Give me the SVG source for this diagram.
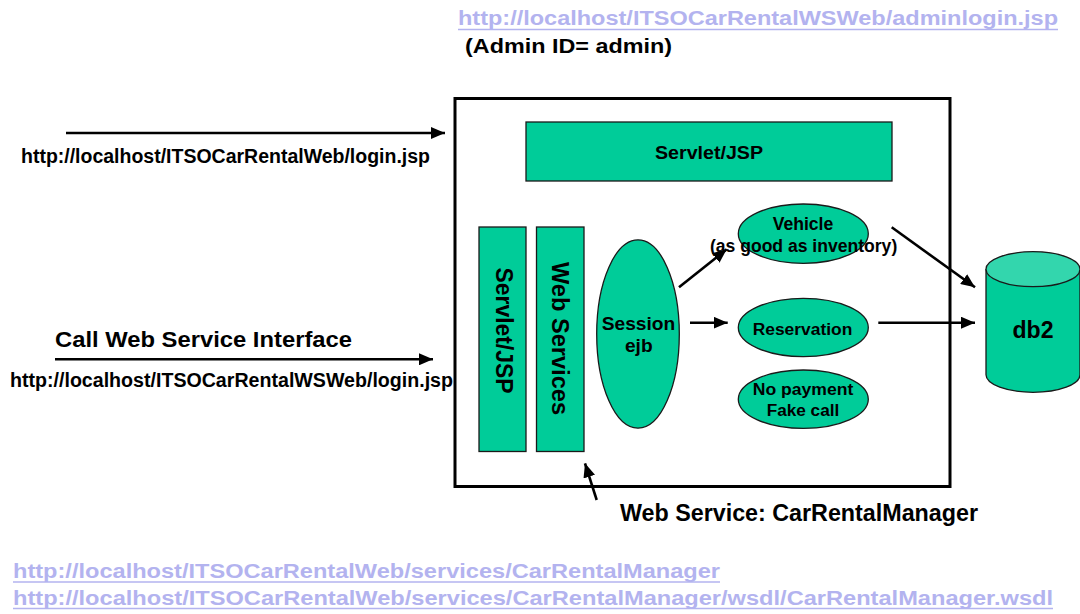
<svg xmlns="http://www.w3.org/2000/svg" width="1080" height="614" viewBox="0 0 1080 614">
<defs>
<style>
text{font-family:"Liberation Sans",Arial,Helvetica,sans-serif;font-weight:bold;fill:#000}
.url{fill:#b3b3ef}
.ul{stroke:#b3b3ef;stroke-width:1.6}
.g{fill:#00cc99;stroke:#1a1a1a;stroke-width:1.3}
.c{stroke:#000;stroke-width:2.6;fill:none;marker-end:url(#ah)}
.mid{text-anchor:middle}
</style>
<marker id="ah" viewBox="0 0 14 12" refX="14" refY="6" markerWidth="14" markerHeight="12" markerUnits="userSpaceOnUse" orient="auto">
<path d="M0,0 L14,6 L0,12 z" fill="#000"/>
</marker>
</defs>
<rect width="1080" height="614" fill="#fff"/>

<g id="labels">
<text class="url" x="458" y="25" font-size="19.5" textLength="600" lengthAdjust="spacingAndGlyphs">http://localhost/ITSOCarRentalWSWeb/adminlogin.jsp</text>
<line class="ul" x1="458" y1="29.5" x2="1058" y2="29.5"/>
<text x="465" y="53" font-size="21" textLength="207" lengthAdjust="spacingAndGlyphs">(Admin ID= admin)</text>
<text x="21" y="163" font-size="19.5" textLength="409" lengthAdjust="spacingAndGlyphs">http://localhost/ITSOCarRentalWeb/login.jsp</text>
<text x="55" y="347" font-size="22.5" textLength="297" lengthAdjust="spacingAndGlyphs">Call Web Service Interface</text>
<text x="10" y="387" font-size="19.5" textLength="443" lengthAdjust="spacingAndGlyphs">http://localhost/ITSOCarRentalWSWeb/login.jsp</text>
<text x="620" y="521" font-size="23" textLength="358" lengthAdjust="spacingAndGlyphs">Web Service: CarRentalManager</text>
<text class="url" x="13" y="578" font-size="19.5" textLength="707" lengthAdjust="spacingAndGlyphs">http://localhost/ITSOCarRentalWeb/services/CarRentalManager</text>
<line class="ul" x1="13" y1="582" x2="720" y2="582"/>
<text class="url" x="13" y="604.5" font-size="19.5" textLength="1040" lengthAdjust="spacingAndGlyphs">http://localhost/ITSOCarRentalWeb/services/CarRentalManager/wsdl/CarRentalManager.wsdl</text>
<line class="ul" x1="13" y1="608.5" x2="1053" y2="608.5"/>
</g>

<g id="container">
<rect x="455" y="98.5" width="495" height="388" fill="none" stroke="#000" stroke-width="3"/>
</g>

<g id="servlet-jsp-top">
<rect class="g" x="526" y="122" width="366" height="59"/>
<text class="mid" x="709" y="159" font-size="19" textLength="108" lengthAdjust="spacingAndGlyphs">Servlet/JSP</text>
</g>

<g id="servlet-jsp-vertical">
<rect class="g" x="479" y="227" width="47" height="224.5"/>
<text class="mid" transform="translate(496,330.5) rotate(90)" font-size="23" textLength="126" lengthAdjust="spacingAndGlyphs">Servlet/JSP</text>
</g>

<g id="web-services">
<rect class="g" x="536.5" y="227" width="47.5" height="224.5"/>
<text class="mid" transform="translate(551.5,338.5) rotate(90)" font-size="23.5" textLength="153" lengthAdjust="spacingAndGlyphs">Web Services</text>
</g>

<g id="session-ejb">
<ellipse class="g" cx="638" cy="334" rx="41.3" ry="94.2"/>
<text class="mid" x="638.5" y="329.5" font-size="18" textLength="73.5" lengthAdjust="spacingAndGlyphs">Session</text>
<text class="mid" x="638.8" y="351.5" font-size="18" textLength="27.7" lengthAdjust="spacingAndGlyphs">ejb</text>
</g>

<g id="vehicle">
<ellipse class="g" cx="803.3" cy="233.7" rx="65" ry="29.7"/>
<text class="mid" x="803" y="229.5" font-size="17.5" textLength="60.6" lengthAdjust="spacingAndGlyphs">Vehicle</text>
<text class="mid" x="803.6" y="251.7" font-size="17.5" textLength="187.3" lengthAdjust="spacingAndGlyphs">(as good as inventory)</text>
</g>

<g id="reservation">
<ellipse class="g" cx="803.3" cy="327.5" rx="65" ry="29.2"/>
<text class="mid" x="802.5" y="335" font-size="17.2" textLength="99.6" lengthAdjust="spacingAndGlyphs">Reservation</text>
</g>

<g id="no-payment">
<ellipse class="g" cx="803.3" cy="399.2" rx="65" ry="29.2"/>
<text class="mid" x="803" y="395" font-size="17.2" textLength="100.6" lengthAdjust="spacingAndGlyphs">No payment</text>
<text class="mid" x="803" y="415.5" font-size="17.2" textLength="72.6" lengthAdjust="spacingAndGlyphs">Fake call</text>
</g>

<g id="db2">
<path class="g" d="M986,269 L986,374.8 A47,17.5 0 0 0 1080,374.8 L1080,269"/>
<ellipse cx="1033" cy="269.2" rx="47" ry="17.5" fill="#33d6ad" stroke="#1a1a1a" stroke-width="1.3"/>
<text class="mid" x="1033" y="338.3" font-size="23" textLength="41" lengthAdjust="spacingAndGlyphs">db2</text>
</g>

<g id="connectors">
<line class="c" x1="66" y1="133" x2="445" y2="133"/>
<line class="c" x1="55" y1="359.3" x2="433" y2="359.3"/>
<line class="c" x1="679" y1="287.3" x2="726.7" y2="249.3"/>
<line class="c" x1="690" y1="322.7" x2="727.7" y2="322.7"/>
<line class="c" x1="878.3" y1="322.7" x2="975" y2="322.7"/>
<line class="c" x1="891.7" y1="227.3" x2="975" y2="287.3"/>
<line class="c" x1="596.7" y1="500" x2="585" y2="463.3"/>
</g>
</svg>
